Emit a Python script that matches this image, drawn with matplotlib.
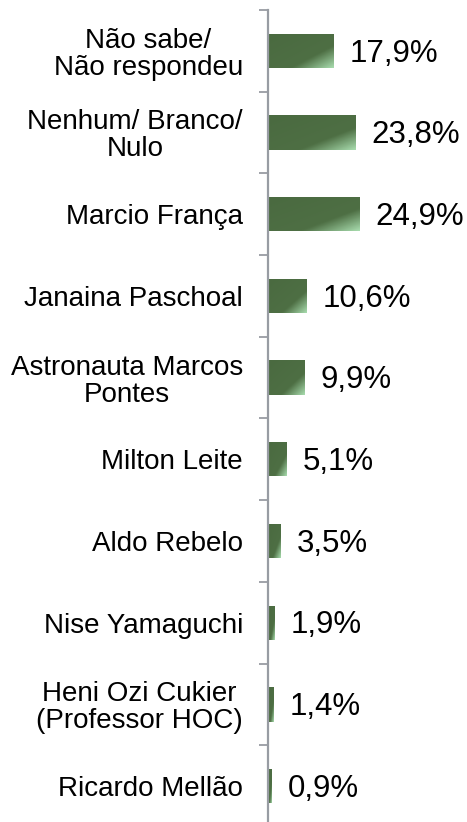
import matplotlib
matplotlib.use("Agg")
import matplotlib.pyplot as plt
import numpy as np
from matplotlib.colors import LinearSegmentedColormap

plt.rcParams["font.family"] = ["Liberation Sans", "DejaVu Sans"]

categories = [
    "Não sabe/\nNão respondeu",
    "Nenhum/ Branco/\nNulo",
    "Marcio França",
    "Janaina Paschoal",
    "Astronauta Marcos\nPontes",
    "Milton Leite",
    "Aldo Rebelo",
    "Nise Yamaguchi",
    "Heni Ozi Cukier\n(Professor HOC)",
    "Ricardo Mellão",
]
values = [17.9, 23.8, 24.9, 10.6, 9.9, 5.1, 3.5, 1.9, 1.4, 0.9]
value_labels = ["17,9%", "23,8%", "24,9%", "10,6%", "9,9%", "5,1%", "3,5%", "1,9%", "1,4%", "0,9%"]

fig = plt.figure(figsize=(4.67, 8.22), dpi=100)
ax = fig.add_axes([0.574, -0.006, 0.426, 0.9939])

y = np.arange(len(categories))
bars = ax.barh(y, values, height=0.42, color="none", edgecolor="none")

# diagonal gradient inside each bar: dark green, lighter towards bottom-right corner
cmap = LinearSegmentedColormap.from_list(
    "bar", [(0.0, "#4a6a40"), (0.68, "#4e6f44"), (1.0, "#a8dcae")]
)
u = np.linspace(0, 1, 120)
w = np.linspace(0, 1, 60)
U, W = np.meshgrid(u, w)
grad = (U + W) / 2
for b in bars:
    x0, y0 = b.get_x(), b.get_y()
    bw, bh = b.get_width(), b.get_height()
    im = ax.imshow(grad, cmap=cmap, vmin=0, vmax=1, aspect="auto",
                   extent=(x0, x0 + bw, y0 + bh, y0), interpolation="bilinear", zorder=2)
    im.set_clip_path(b)

for yi, v, lab in zip(y, values, value_labels):
    ax.annotate(lab, (v, yi), xytext=(11.5, -2), textcoords="offset points",
                va="center", ha="left", fontsize=22.5, color="#000000")

ax.set_xlim(0, 54.4)
ax.set_ylim(len(categories) - 0.5, -0.5)

for s in ["top", "right", "bottom"]:
    ax.spines[s].set_visible(False)
ax.spines["left"].set_color("#989ca3")
ax.spines["left"].set_linewidth(1.6)
ax.xaxis.set_visible(False)

ax.set_yticks(y)
ax.set_yticklabels(categories, fontsize=20, multialignment="center", linespacing=1.05)
ax.set_yticks(np.arange(-0.5, len(categories), 1), minor=True)
ax.tick_params(axis="y", which="major", length=0, pad=18)
ax.tick_params(axis="y", which="minor", length=6.5, width=1.3, color="#989ca3", direction="out")

fig.savefig("out.png", dpi=100)
